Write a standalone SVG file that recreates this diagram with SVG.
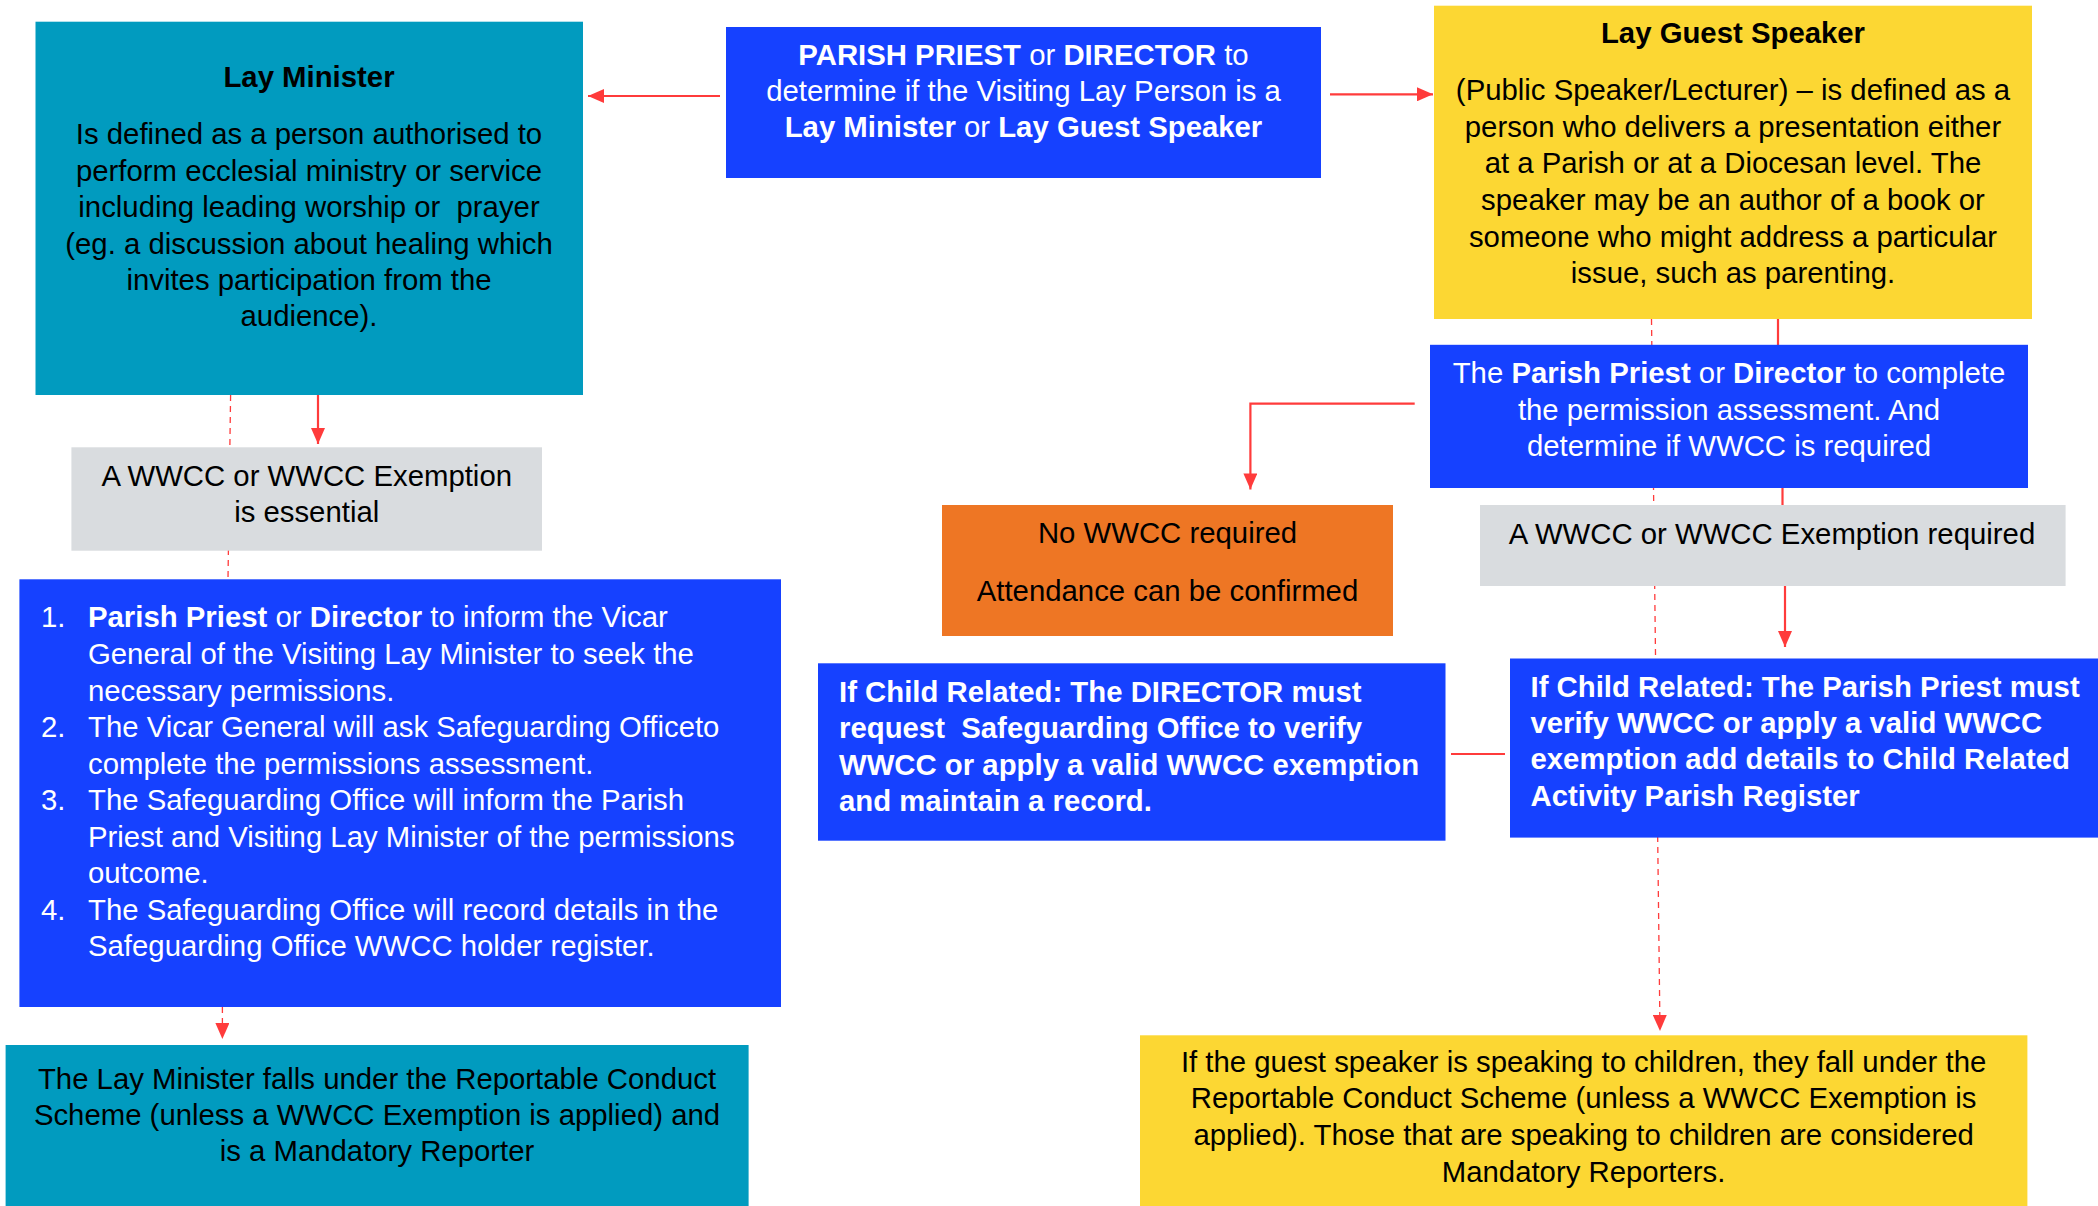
<svg xmlns="http://www.w3.org/2000/svg" width="2098" height="1206" viewBox="0 0 2098 1206">
<style>
  text { font-family: "Liberation Sans", Arial, sans-serif; font-size: 29.33px; }
  .c { text-anchor: middle; }
  .b { font-weight: bold; }
  .w { fill: #ffffff; }
  .k { fill: #000000; }
  .teal { fill: #019BBF; }
  .blue { fill: #1641FF; }
  .yellow { fill: #FCD733; }
  .orange { fill: #EE7624; }
  .gray { fill: #D9DCDF; }
  .ln { stroke: #FF3B3B; stroke-width: 2.2; fill: none; }
  .dash { stroke: #FF3B3B; stroke-width: 1.3; fill: none; stroke-dasharray: 6 5; }
</style>
<defs>
  <marker id="ah" viewBox="0 0 16 14" refX="16" refY="7" markerWidth="16" markerHeight="14" markerUnits="userSpaceOnUse" orient="auto">
    <path d="M0,0 L16,7 L0,14 Z" fill="#FF3B3B"/>
  </marker>
</defs>
<rect width="2098" height="1206" fill="#ffffff"/>

<g id="connectors">
  <line class="ln" x1="720" y1="96" x2="588" y2="96" marker-end="url(#ah)"/>
  <line class="ln" x1="1330" y1="94.3" x2="1433" y2="94.3" marker-end="url(#ah)"/>
  <line class="ln" x1="318" y1="395" x2="318" y2="444" marker-end="url(#ah)"/>
  <line class="dash" x1="230.6" y1="395" x2="228" y2="579"/>
  <line class="dash" x1="222.4" y1="1007" x2="222.4" y2="1039" marker-end="url(#ah)"/>
  <line class="ln" x1="1778" y1="319" x2="1778" y2="345"/>
  <line class="ln" x1="1782.5" y1="488" x2="1782.5" y2="505"/>
  <line class="ln" x1="1785" y1="586" x2="1785" y2="647" marker-end="url(#ah)"/>
  <line class="dash" x1="1651.5" y1="319" x2="1660" y2="1031" marker-end="url(#ah)"/>
  <polyline class="ln" points="1414.7,403.7 1250.4,403.7 1250.4,489.4" marker-end="url(#ah)"/>
  <line class="ln" x1="1451" y1="754" x2="1505" y2="754"/>
</g>

<g id="node-pp-director">
  <rect class="blue" x="726" y="27" width="595" height="151"/>
  <text class="c w" x="1023.5" y="65"><tspan class="b">PARISH PRIEST</tspan> or <tspan class="b">DIRECTOR</tspan> to</text>
  <text class="c w" x="1023.5" y="100.7">determine if the Visiting Lay Person is a</text>
  <text class="c w" x="1023.5" y="136.7"><tspan class="b">Lay Minister</tspan> or <tspan class="b">Lay Guest Speaker</tspan></text>
</g>

<g id="node-lay-minister">
  <rect class="teal" x="35.5" y="21.7" width="547.5" height="373.3"/>
  <text class="c k b" x="309" y="87">Lay Minister</text>
  <text class="c k" x="309" y="144">Is defined as a person authorised to</text>
  <text class="c k" x="309" y="181">perform ecclesial ministry or service</text>
  <text class="c k" x="309" y="217">including leading worship or &#160;prayer</text>
  <text class="c k" x="309" y="254">(eg. a discussion about healing which</text>
  <text class="c k" x="309" y="290">invites participation from the</text>
  <text class="c k" x="309" y="326">audience).</text>
</g>

<g id="node-lay-guest-speaker">
  <rect class="yellow" x="1434" y="5.7" width="598" height="313.3"/>
  <text class="c k b" x="1733" y="43">Lay Guest Speaker</text>
  <text class="c k" x="1733" y="100">(Public Speaker/Lecturer) – is defined as a</text>
  <text class="c k" x="1733" y="136.7">person who delivers a presentation either</text>
  <text class="c k" x="1733" y="173">at a Parish or at a Diocesan level. The</text>
  <text class="c k" x="1733" y="210">speaker may be an author of a book or</text>
  <text class="c k" x="1733" y="246.7">someone who might address a particular</text>
  <text class="c k" x="1733" y="282.7">issue, such as parenting.</text>
</g>

<g id="node-wwcc-essential">
  <rect class="gray" x="71.4" y="447.3" width="470.6" height="103.4"/>
  <text class="c k" x="306.7" y="486">A WWCC or WWCC Exemption</text>
  <text class="c k" x="306.7" y="521.7">is essential</text>
</g>

<g id="node-steps">
  <rect class="blue" x="19.4" y="579.3" width="761.6" height="427.7"/>
  <text class="w" x="41" y="627.3">1.</text>
  <text class="w" x="88" y="627.3"><tspan class="b">Parish Priest</tspan> or <tspan class="b">Director</tspan> to inform the Vicar</text>
  <text class="w" x="88" y="664">General of the Visiting Lay Minister to seek the</text>
  <text class="w" x="88" y="700.5">necessary permissions.</text>
  <text class="w" x="41" y="737">2.</text>
  <text class="w" x="88" y="737">The Vicar General will ask Safeguarding Officeto</text>
  <text class="w" x="88" y="773.5">complete the permissions assessment.</text>
  <text class="w" x="41" y="810">3.</text>
  <text class="w" x="88" y="810">The Safeguarding Office will inform the Parish</text>
  <text class="w" x="88" y="846.5">Priest and Visiting Lay Minister of the permissions</text>
  <text class="w" x="88" y="883">outcome.</text>
  <text class="w" x="41" y="919.5">4.</text>
  <text class="w" x="88" y="919.5">The Safeguarding Office will record details in the</text>
  <text class="w" x="88" y="956">Safeguarding Office WWCC holder register.</text>
</g>

<g id="node-lay-minister-reportable">
  <rect class="teal" x="5.6" y="1045" width="743" height="161"/>
  <text class="c k" x="377" y="1088.6">The Lay Minister falls under the Reportable Conduct</text>
  <text class="c k" x="377" y="1124.6">Scheme (unless a WWCC Exemption is applied) and</text>
  <text class="c k" x="377" y="1160.6">is a Mandatory Reporter</text>
</g>

<g id="node-permission-assessment">
  <rect class="blue" x="1430" y="344.8" width="598" height="143.2"/>
  <text class="c w" x="1729" y="383">The <tspan class="b">Parish Priest</tspan> or <tspan class="b">Director</tspan> to complete</text>
  <text class="c w" x="1729" y="420">the permission assessment. And</text>
  <text class="c w" x="1729" y="456">determine if WWCC is required</text>
</g>

<g id="node-no-wwcc">
  <rect class="orange" x="942" y="505" width="451" height="131"/>
  <text class="c k" x="1167.5" y="543">No WWCC required</text>
  <text class="c k" x="1167.5" y="600.6">Attendance can be confirmed</text>
</g>

<g id="node-wwcc-required">
  <rect class="gray" x="1480" y="505" width="585.6" height="81"/>
  <text class="c k" x="1772" y="543.8">A WWCC or WWCC Exemption required</text>
</g>

<g id="node-director-child">
  <rect class="blue" x="818" y="663.3" width="627.5" height="177.4"/>
  <text class="w b" x="839" y="701.5">If Child Related: The DIRECTOR must</text>
  <text class="w b" x="839" y="738.4">request &#160;Safeguarding Office to verify</text>
  <text class="w b" x="839" y="775.2">WWCC or apply a valid WWCC exemption</text>
  <text class="w b" x="839" y="810.5">and maintain a record.</text>
</g>

<g id="node-parish-child">
  <rect class="blue" x="1510" y="658.5" width="588" height="179.1"/>
  <text class="w b" x="1530.5" y="697">If Child Related: The Parish Priest must</text>
  <text class="w b" x="1530.5" y="733.2">verify WWCC or apply a valid WWCC</text>
  <text class="w b" x="1530.5" y="769.4">exemption add details to Child Related</text>
  <text class="w b" x="1530.5" y="805.5">Activity Parish Register</text>
</g>

<g id="node-guest-reportable">
  <rect class="yellow" x="1140" y="1035.3" width="887.4" height="170.7"/>
  <text class="c k" x="1583.6" y="1071.7">If the guest speaker is speaking to children, they fall under the</text>
  <text class="c k" x="1583.6" y="1108.3">Reportable Conduct Scheme (unless a WWCC Exemption is</text>
  <text class="c k" x="1583.6" y="1145">applied). Those that are speaking to children are considered</text>
  <text class="c k" x="1583.6" y="1181.7">Mandatory Reporters.</text>
</g>
</svg>
